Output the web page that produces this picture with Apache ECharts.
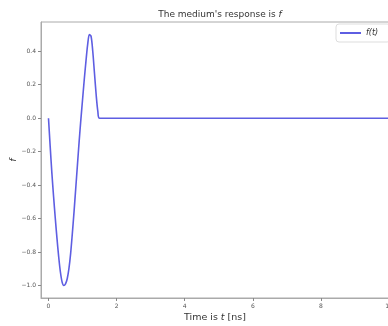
<!DOCTYPE html>
<html><head><meta charset="utf-8">
<script src="https://cdn.jsdelivr.net/npm/echarts@6/dist/echarts.min.js"></script>
<style>html,body{margin:0;padding:0;background:#fff}#c{width:388px;height:326px}</style>
</head><body><div id="c"></div>
<script>
const tValues = [0,0.05,0.1,0.15,0.2,0.25,0.3,0.35,0.4,0.45,0.5,0.55,0.6,0.65,0.7,0.75,0.8,0.85,0.9,0.95,1.0,1.05,1.1,1.15,1.2,1.25,1.3,1.35,1.4,1.45,1.5,10];
const fValues = [0,-0.17,-0.33,-0.47,-0.6,-0.72,-0.83,-0.92,-0.98,-1.0,-0.99,-0.96,-0.9,-0.81,-0.69,-0.56,-0.42,-0.28,-0.14,-0.01,0.11,0.23,0.34,0.44,0.5,0.49,0.4,0.27,0.14,0.04,0,0];
const xTicks = [0,2,4,6,8,10];
const yTicks = [-1.0,-0.8,-0.6,-0.4,-0.2,0.0,0.2,0.4];
const seriesName = 'f(t)';

const data = tValues.map((t,i)=>[t,fValues[i]]);
const font = 'DejaVu Sans';
const chart = echarts.init(document.getElementById('c'), null, {renderer:'canvas'});
chart.setOption({
  animation:false,
  backgroundColor:'#fff',
  title:{
    text:"The medium's response is {i|f}",
    left:215, textAlign:'center', top:5,
    textStyle:{fontFamily:font,fontSize:9,fontWeight:'normal',color:'#333',
      rich:{i:{fontStyle:'italic',fontFamily:font,fontSize:9,color:'#333'}}}
  },
  legend:{
    data:[{name:seriesName}],
    left:336, top:24,
    itemWidth:21, itemHeight:2, icon:'rect',
    itemGap:6,
    borderColor:'#ddd', borderWidth:1, borderRadius:3,
    padding:[5,12,5,4], backgroundColor:'#fff',
    formatter:()=>'{i|f(t)}',
    textStyle:{fontFamily:font,fontSize:8,color:'#333',rich:{i:{fontStyle:'italic',fontFamily:font,fontSize:8,color:'#333'}}}
  },
  grid:{left:41,right:-1,top:22,bottom:28,show:true,borderColor:'#aaa',borderWidth:1,containLabel:false,outerBoundsMode:'none'},
  xAxis:{
    type:'value', min:-0.22, max:10,
    name:'Time is {i|t} [ns]', nameLocation:'middle', nameGap:15, nameMoveOverlap:false,
    nameTextStyle:{fontFamily:font,fontSize:9.5,color:'#333',rich:{i:{fontStyle:'italic',fontFamily:font,fontSize:9.5,color:'#333'}}},
    axisLine:{show:true,onZero:false,lineStyle:{color:'#aaa',width:1}},
    axisTick:{show:true,length:3,customValues:xTicks,lineStyle:{color:'#888'}},
    axisLabel:{customValues:xTicks,fontFamily:font,fontSize:6,color:'#555',margin:5,formatter:v=>String(v)},
    splitLine:{show:false}
  },
  yAxis:{
    type:'value', min:-1.075, max:0.575,
    name:'{i|f}', nameLocation:'middle', nameGap:22, nameRotate:90, nameMoveOverlap:false,
    nameTextStyle:{fontFamily:font,fontSize:9.5,color:'#333',rich:{i:{fontStyle:'italic',fontFamily:font,fontSize:9.5,color:'#333'}}},
    axisLine:{show:true,onZero:false,lineStyle:{color:'#aaa',width:1}},
    axisTick:{show:true,length:3,customValues:yTicks,lineStyle:{color:'#888'}},
    axisLabel:{customValues:yTicks,fontFamily:font,fontSize:6,color:'#555',margin:5,formatter:v=>(v<0?'\u2212':'')+Math.abs(v).toFixed(1)},
    splitLine:{show:false}
  },
  series:[{
    name:seriesName, type:'line', data:data, showSymbol:false, smooth:0.3,
    lineStyle:{color:'#5e5ee2',width:1.6}, itemStyle:{color:'#5e5ee2'}
  }]
});
</script></body></html>
